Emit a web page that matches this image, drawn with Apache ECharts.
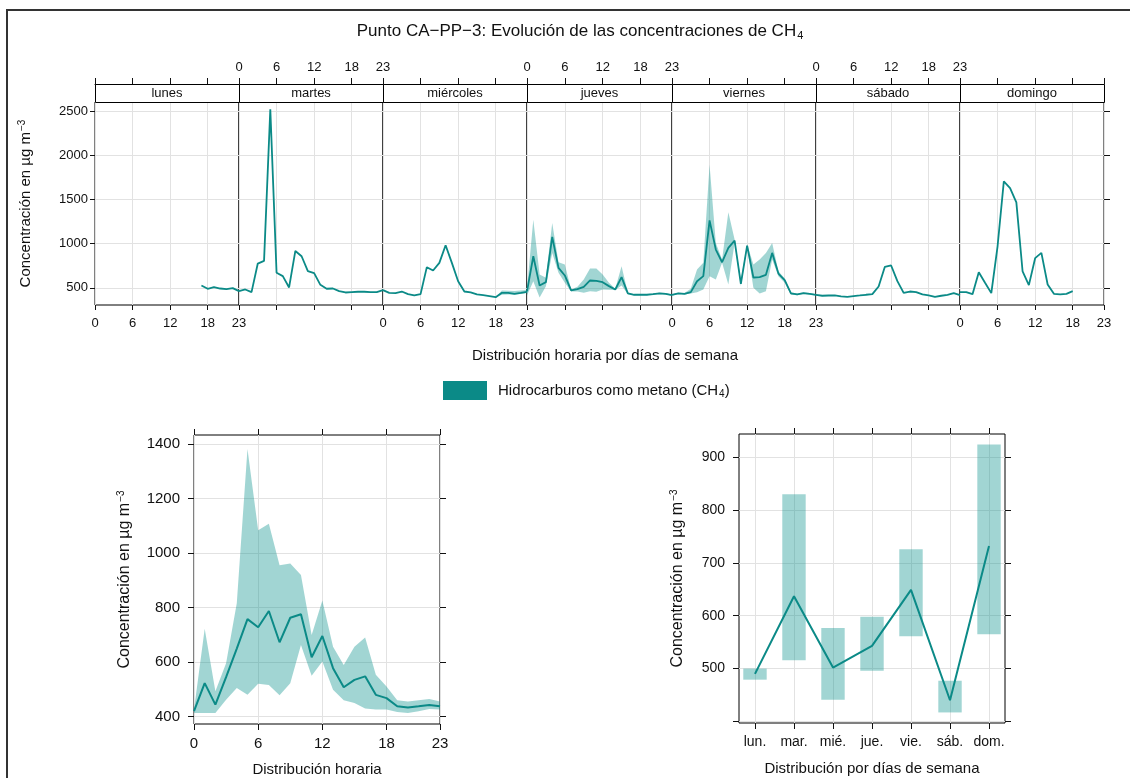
<!DOCTYPE html>
<html><head><meta charset="utf-8">
<script src="https://cdn.jsdelivr.net/npm/echarts@6/dist/echarts.min.js"></script>
<style>html,body{margin:0;padding:0;background:#fff}#c{width:1130px;height:778px}</style>
</head><body><div id="c"></div>
<script>
// ---------- data ----------
const dayNames = ['lunes', 'martes', 'miércoles', 'jueves', 'viernes', 'sábado', 'domingo'];
const dayAbbr = ['lun.', 'mar.', 'mié.', 'jue.', 'vie.', 'sáb.', 'dom.'];
const yTicksTop = [500, 1000, 1500, 2000, 2500];
const yTicksHour = [400, 600, 800, 1000, 1200, 1400];
const yTicksDay = [400, 500, 600, 700, 800, 900];
const yLabelsDay = [500, 600, 700, 800, 900];

const lunes = [null, null, null, null, null, null, null, null, null, null, null, null, null, null, null, null, null, 526, 489, 507, 492, 485, 496, 462];
const martes = [462, 481, 451, 775, 805, 2524, 670, 632, 504, 918, 858, 689, 666, 534, 489, 492, 462, 447, 451, 455, 455, 451, 451, 474];
const miercoles = [474, 443, 440, 458, 428, 413, 428, 734, 696, 783, 983, 783, 575, 458, 447, 425, 417, 406, 394, 443, 443, 432, 443, 455];
const jueves = [459, 858, 526, 564, 1077, 726, 640, 470, 485, 511, 583, 579, 564, 519, 481, 621, 436, 421, 421, 421, 428, 436, 432, 417];
const viernes = [421, 436, 432, 451, 575, 632, 1265, 934, 790, 952, 1035, 545, 979, 617, 621, 647, 896, 662, 587, 436, 425, 440, 432, 421];
const sabado = [421, 410, 413, 413, 402, 398, 406, 413, 421, 428, 515, 738, 753, 575, 443, 458, 451, 425, 413, 398, 410, 421, 440, 417];
const domingo = [451, 451, 428, 677, 557, 440, 971, 1706, 1631, 1469, 685, 530, 836, 896, 538, 432, 425, 432, 462, null, null, null, null, null];

const miercolesLow = [null, null, null, null, null, null, null, null, null, null, null, null, null, null, null, null, null, null, 394, 420, 425, 425, 430, 440];
const miercolesUp = [null, null, null, null, null, null, null, null, null, null, null, null, null, null, null, null, null, null, 396, 470, 468, 465, 470, 475];
const juevesLow = [413, 575, 390, 519, 896, 670, 557, 459, 459, 443, 462, 455, 481, 478, 474, 526, 428, 415, 415, 415, 420, 428, 425, 410];
const juevesUp = [489, 1273, 651, 613, 1235, 790, 764, 481, 511, 594, 719, 719, 651, 557, 489, 745, 443, 428, 428, 428, 436, 443, 440, 425];
const viernesLow = [414, 428, 425, 436, 451, 481, 632, 594, 783, 538, 1009, 520, 960, 500, 436, 462, 820, 632, 557, 421, 415, 430, 425, 414];
const viernesUp = [428, 443, 440, 489, 707, 783, 1895, 1009, 820, 1356, 1047, 594, 995, 764, 820, 896, 1009, 689, 605, 451, 433, 448, 440, 428];

const hourMean = [420, 523, 444, 545, 650, 758, 728, 788, 673, 763, 776, 618, 696, 578, 508, 535, 548, 480, 468, 438, 434, 438, 443, 438];
const hourLow = [413, 413, 413, 462, 505, 480, 521, 516, 479, 523, 663, 550, 602, 499, 460, 450, 430, 426, 426, 417, 413, 420, 428, 426];
const hourUp = [425, 723, 493, 596, 816, 1383, 1084, 1108, 956, 962, 920, 700, 826, 657, 590, 657, 691, 554, 511, 460, 456, 460, 465, 456];

const dayMean = [490, 637, 502, 543, 649, 440, 732];
const dayLow = [479, 516, 441, 496, 561, 417, 565];
const dayUp = [500, 830, 577, 598, 726, 477, 924];

const weekLines = [lunes, martes, miercoles, jueves, viernes, sabado, domingo];
const weekBands = [null, null, [miercolesLow, miercolesUp], [juevesLow, juevesUp], [viernesLow, viernesUp], null, null];

// ---------- style / layout ----------
const TEAL = '#0b8a87';
const BAND = 'rgba(20,150,145,0.40)';
const INK = '#111';
const GRIDC = '#e2e2e2';
const FONT = '"Liberation Sans", Arial, Helvetica, sans-serif';
const L = 95, R = 1104, T = 102, B = 305, STRIP = 18;
const DW = (R - L) / 7;
const edge = i => Math.round(L + i * DW);

const grids = [], xAxes = [], yAxes = [], series = [], graphics = [];

function pairs(arr) { const o = []; arr.forEach((v, h) => { if (v != null) o.push([h, v]); }); return o; }
function band(low, up, xi, yi) {
  const pts = [];
  low.forEach((v, h) => { if (v != null && up[h] != null) pts.push([h, v, up[h]]); });
  return { type: 'custom', xAxisIndex: xi, yAxisIndex: yi, data: pts, silent: true, z: 1,
    encode: { x: 0, y: [1, 2] }, clip: true,
    renderItem: (params, api) => {
      if (params.dataIndex !== 0) return { type: 'group', children: [] };
      const upper = pts.map(p => api.coord([p[0], p[2]]));
      const lower = pts.map(p => api.coord([p[0], p[1]])).reverse();
      return { type: 'polygon', shape: { points: upper.concat(lower) }, style: { fill: BAND } };
    } };
}
const tick = (show, len) => ({ show, inside: false, length: len, lineStyle: { color: INK, width: 1 } });
const split = (show) => ({ show, lineStyle: { color: GRIDC, width: 1 } });
const noLine = { show: false, onZero: false };
const plain = v => String(v);
const supRich = { sup: { fontSize: 10, verticalAlign: 'top', padding: [0, 0, 8, 1], color: INK, fontFamily: FONT }, sub: { fontSize: 10, verticalAlign: 'bottom', padding: [8, 0, 0, 1], color: INK, fontFamily: FONT } };

// top weekly panels
for (let d = 0; d < 7; d++) {
  const gl = edge(d), gw = edge(d + 1) - edge(d);
  grids.push({ left: gl, top: T, width: gw, height: B - T, show: true, borderColor: '#000', borderWidth: 1, backgroundColor: 'transparent' });
  const xb = xAxes.length;
  xAxes.push({ gridIndex: d, type: 'value', min: 0, max: 23, interval: 6, position: 'bottom',
    axisLine: noLine, axisTick: tick(true, 5), splitLine: split(true),
    axisLabel: { show: d % 2 === 0, fontSize: 13, color: INK, margin: 12, fontFamily: FONT, formatter: plain } });
  xAxes.push({ gridIndex: d, type: 'value', min: 0, max: 23, interval: 6, position: 'top', offset: STRIP,
    axisLine: { show: true, onZero: false, lineStyle: { color: '#000' } }, axisTick: tick(true, 6), splitLine: split(false),
    axisLabel: { show: d % 2 === 1, fontSize: 13, color: INK, margin: 10, fontFamily: FONT, formatter: plain } });
  const yi = yAxes.length;
  const ya = { gridIndex: d, type: 'value', min: 305, max: 2607, position: 'left',
    axisLine: noLine, axisTick: Object.assign(tick(d === 0, 5), { customValues: yTicksTop }),
    splitLine: split(true),
    axisLabel: { show: d === 0, customValues: yTicksTop, fontSize: 13, color: INK, margin: 7, fontFamily: FONT, formatter: plain } };
  if (d === 0) Object.assign(ya, { name: 'Concentración en µg m{sup|−3}', nameLocation: 'middle', nameGap: 60,
    nameTextStyle: { fontSize: 15, color: INK, fontFamily: FONT, rich: supRich } });
  yAxes.push(ya);
  if (weekBands[d]) series.push(band(weekBands[d][0], weekBands[d][1], xb, yi));
  series.push({ type: 'line', name: 'CH4', xAxisIndex: xb, yAxisIndex: yi, data: pairs(weekLines[d]), symbol: 'none',
    lineStyle: { color: TEAL, width: 1.8 }, itemStyle: { color: TEAL }, z: 3 });
  graphics.push({ type: 'rect', shape: { x: gl + 0.5, y: T - STRIP + 0.5, width: gw, height: STRIP }, style: { fill: '#fff', stroke: '#000', lineWidth: 1 }, z: 10 });
  graphics.push({ type: 'text', x: gl + gw / 2, y: T - STRIP / 2, style: { text: dayNames[d], align: 'center', verticalAlign: 'middle', font: '13px ' + FONT, fill: INK }, z: 11 });
}
// right ticks of weekly panel
yAxes.push({ gridIndex: 6, type: 'value', min: 305, max: 2607, position: 'right', axisLine: noLine,
  axisTick: Object.assign(tick(true, 6), { customValues: yTicksTop }), axisLabel: { show: false, customValues: yTicksTop }, splitLine: split(false) });

// bottom-left: hourly
const gBL = grids.length;
grids.push({ left: 194, top: 435, width: 246, height: 289, show: true, borderColor: '#000', borderWidth: 1, backgroundColor: 'transparent' });
const xBL = xAxes.length;
xAxes.push({ gridIndex: gBL, type: 'value', min: 0, max: 23, interval: 6, position: 'bottom', axisLine: noLine,
  axisTick: tick(true, 6), splitLine: split(true), axisLabel: { fontSize: 15, color: INK, margin: 12, fontFamily: FONT, formatter: plain },
  name: 'Distribución horaria', nameLocation: 'middle', nameGap: 38, nameTextStyle: { fontSize: 15, color: INK, fontFamily: FONT } });
xAxes.push({ gridIndex: gBL, type: 'value', min: 0, max: 23, interval: 6, position: 'top', axisLine: noLine,
  axisTick: tick(true, 6), splitLine: split(false), axisLabel: { show: false } });
const yBL = yAxes.length;
yAxes.push({ gridIndex: gBL, type: 'value', min: 373, max: 1434, position: 'left', axisLine: noLine,
  axisTick: Object.assign(tick(true, 6), { customValues: yTicksHour }), splitLine: split(true),
  axisLabel: { customValues: yTicksHour, fontSize: 15, color: INK, margin: 14, fontFamily: FONT, formatter: plain },
  name: 'Concentración en µg m{sup|−3}', nameLocation: 'middle', nameGap: 60,
  nameTextStyle: { fontSize: 16, color: INK, fontFamily: FONT, rich: supRich } });
yAxes.push({ gridIndex: gBL, type: 'value', min: 373, max: 1434, position: 'right', axisLine: noLine,
  axisTick: Object.assign(tick(true, 6), { customValues: yTicksHour }), axisLabel: { show: false, customValues: yTicksHour }, splitLine: split(false) });
series.push(band(hourLow, hourUp, xBL, yBL));
series.push({ type: 'line', name: 'hourMean', xAxisIndex: xBL, yAxisIndex: yBL, data: pairs(hourMean), symbol: 'none', lineStyle: { color: TEAL, width: 2 }, z: 3 });

// bottom-right: weekday
const gBR = grids.length;
grids.push({ left: 739, top: 434, width: 266, height: 289, show: true, borderColor: '#000', borderWidth: 1, backgroundColor: 'transparent' });
const dayPos = dayAbbr.map((_, i) => i + 1);
const xBR = xAxes.length;
xAxes.push({ gridIndex: gBR, type: 'value', min: 0.59, max: 7.41, position: 'bottom', axisLine: noLine,
  axisTick: Object.assign(tick(true, 6), { customValues: dayPos }), splitLine: split(true),
  axisLabel: { customValues: dayPos, formatter: v => dayAbbr[Math.round(v) - 1], fontSize: 14, color: INK, margin: 12, fontFamily: FONT },
  name: 'Distribución por días de semana', nameLocation: 'middle', nameGap: 38, nameTextStyle: { fontSize: 15, color: INK, fontFamily: FONT } });
xAxes.push({ gridIndex: gBR, type: 'value', min: 0.59, max: 7.41, position: 'top', axisLine: noLine,
  axisTick: Object.assign(tick(true, 6), { customValues: dayPos }), axisLabel: { show: false, customValues: dayPos }, splitLine: split(false) });
const yBR = yAxes.length;
yAxes.push({ gridIndex: gBR, type: 'value', min: 397, max: 944, position: 'left', axisLine: noLine,
  axisTick: Object.assign(tick(true, 6), { customValues: yTicksDay }), splitLine: split(true),
  axisLabel: { customValues: yLabelsDay, fontSize: 14, color: INK, margin: 14, fontFamily: FONT, formatter: plain },
  name: 'Concentración en µg m{sup|−3}', nameLocation: 'middle', nameGap: 52,
  nameTextStyle: { fontSize: 16, color: INK, fontFamily: FONT, rich: supRich } });
yAxes.push({ gridIndex: gBR, type: 'value', min: 397, max: 944, position: 'right', axisLine: noLine,
  axisTick: Object.assign(tick(true, 6), { customValues: yTicksDay }), axisLabel: { show: false, customValues: yTicksDay }, splitLine: split(false) });
series.push({ type: 'custom', name: 'dayRange', xAxisIndex: xBR, yAxisIndex: yBR,
  data: dayPos.map((p, i) => [p, dayLow[i], dayUp[i]]), encode: { x: 0, y: [1, 2] },
  renderItem: (params, api) => {
    const x = api.value(0);
    const p0 = api.coord([x, api.value(2)]);
    const p1 = api.coord([x, api.value(1)]);
    const w = api.size([0.6, 0])[0];
    return { type: 'rect', shape: { x: p0[0] - w / 2, y: p0[1], width: w, height: p1[1] - p0[1] }, style: { fill: BAND } };
  }, z: 1, silent: true });
series.push({ type: 'line', name: 'dayMean', xAxisIndex: xBR, yAxisIndex: yBR, data: dayPos.map((p, i) => [p, dayMean[i]]), symbol: 'none', lineStyle: { color: TEAL, width: 2 }, z: 3 });

// frame
graphics.push({ type: 'polyline', shape: { points: [[7, 778], [7, 10], [1130, 10]] }, style: { stroke: '#333', lineWidth: 2, fill: null }, z: 20 });

const chart = echarts.init(document.getElementById('c'), null, { renderer: 'canvas' });
chart.setOption({
  animation: false,
  backgroundColor: '#fff',
  textStyle: { fontFamily: FONT, color: INK },
  title: [
    { text: 'Punto CA−PP−3: Evolución de las concentraciones de CH{sub|4}', left: 575, top: 17, textAlign: 'center',
      textStyle: { fontSize: 17, fontWeight: 'normal', color: INK, fontFamily: FONT, rich: { sub: { fontSize: 11, verticalAlign: 'bottom', padding: [8, 0, 0, 1], color: INK, fontFamily: FONT } } } },
    { text: 'Distribución horaria por días de semana', left: 600, top: 343, textAlign: 'center',
      textStyle: { fontSize: 15, fontWeight: 'normal', color: INK, fontFamily: FONT } }
  ],
  legend: { left: 438, top: 376, itemWidth: 44, itemHeight: 19, icon: 'rect', data: ['CH4'],
    formatter: () => 'Hidrocarburos como metano (CH{sub|4})',
    textStyle: { fontSize: 15, color: INK, fontFamily: FONT, padding: [0, 0, 0, 6], rich: { sub: { fontSize: 10, verticalAlign: 'bottom', padding: [8, 0, 0, 1], color: INK, fontFamily: FONT } } } },
  grid: grids, xAxis: xAxes, yAxis: yAxes, series: series, graphic: graphics
});
</script>
</body></html>
